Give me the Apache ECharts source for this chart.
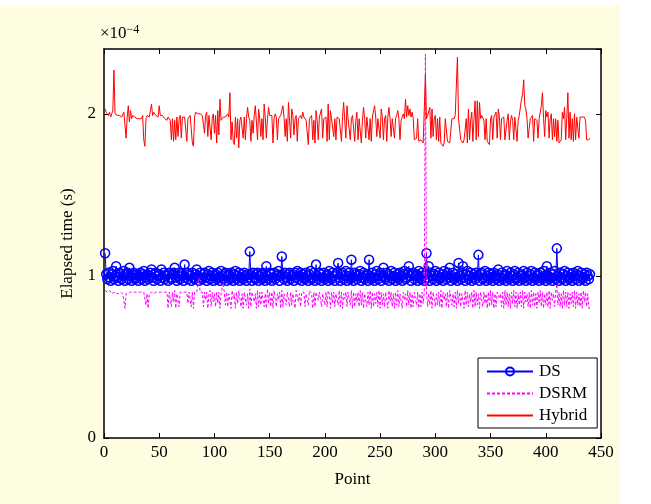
<!DOCTYPE html>
<html><head><meta charset="utf-8">
<script src="https://cdn.jsdelivr.net/npm/echarts@6/dist/echarts.min.js"></script>
<style>html,body{margin:0;padding:0;background:#fff;}#c{width:651px;height:504px;}</style>
</head><body><div id="c"></div>
<script>
// values in units of 1e-4 s, points 1..440
const dsValues = [
1.14,1.01,0.98,1.02,0.99,0.97,1.01,1.03,0.98,1.00,
1.06,0.99,0.97,1.02,1.01,0.98,1.00,1.03,0.97,1.01,
1.02,0.98,1.05,1.00,0.97,1.01,1.02,0.98,0.99,1.01,
0.97,1.00,1.02,0.98,1.01,1.03,0.97,0.99,1.01,0.98,
1.00,1.02,1.04,0.99,0.97,1.01,1.02,0.98,1.00,1.01,
0.97,1.04,0.99,1.02,0.98,1.00,1.01,0.97,1.02,0.99,
0.98,1.01,1.02,1.05,0.99,0.97,1.00,1.02,0.98,1.01,
1.00,0.97,1.07,0.99,1.02,0.98,1.01,1.00,0.97,1.02,
0.99,0.98,1.01,1.04,1.00,0.97,1.02,0.99,0.98,1.01,
1.02,0.99,0.97,1.01,1.03,0.98,1.00,1.02,0.97,1.00,
1.01,0.98,1.02,0.99,0.97,1.03,1.00,0.98,1.01,1.02,
0.97,1.00,1.01,0.98,1.02,0.99,0.97,1.01,1.03,0.98,
1.00,1.02,0.97,0.99,1.01,0.98,1.02,1.00,0.97,1.01,
0.99,1.15,1.01,0.97,1.02,0.99,0.98,1.01,1.02,0.97,
1.00,1.01,0.98,1.02,0.99,0.97,1.06,1.00,0.98,1.02,
1.01,0.97,0.99,1.02,0.98,1.00,1.01,1.03,0.97,1.00,
1.12,1.01,0.98,1.02,0.99,0.97,1.01,1.02,0.98,1.00,
1.01,0.97,1.02,0.99,1.03,0.98,1.00,1.02,0.97,1.01,
0.99,0.98,1.02,1.00,0.97,1.01,1.03,0.98,0.99,1.02,
0.97,1.07,1.00,0.98,1.02,1.01,0.97,0.99,1.02,0.98,
1.00,1.01,0.97,1.03,0.99,0.98,1.02,1.00,0.97,1.01,
1.02,1.08,0.99,0.97,1.01,1.02,0.98,1.00,1.03,0.97,
1.00,1.02,0.98,1.10,0.99,0.97,1.02,1.01,0.98,1.00,
1.01,1.03,0.97,0.99,1.02,0.98,1.00,1.01,0.97,1.10,
1.00,0.98,1.02,0.99,0.97,1.01,1.03,0.98,1.00,1.02,
0.97,1.00,1.05,0.99,0.98,1.02,1.01,0.97,1.00,1.03,
0.98,1.00,1.02,0.97,0.99,1.01,0.98,1.02,1.00,0.97,
1.01,1.03,0.98,0.99,1.02,1.06,1.00,0.97,1.01,1.02,
0.98,1.00,1.01,0.97,1.03,0.99,0.98,1.02,1.00,0.97,
1.01,1.14,0.99,1.06,0.97,1.02,1.00,0.98,1.01,1.03,
0.97,1.00,1.02,0.98,0.99,1.01,0.97,1.03,1.00,0.98,
1.02,0.99,1.05,0.97,1.00,1.02,0.98,1.01,0.99,0.97,
1.08,1.00,0.98,1.02,1.06,0.99,0.97,1.01,1.03,0.98,
1.00,1.02,0.97,0.99,1.01,0.98,1.02,1.00,1.13,0.97,
1.01,1.02,0.98,0.99,1.03,0.97,1.00,1.02,0.98,1.01,
0.99,0.97,1.02,1.00,0.98,1.01,1.04,0.97,0.99,1.02,
0.98,1.00,1.01,0.97,1.03,0.99,0.98,1.02,1.00,0.97,
1.01,1.03,0.98,0.99,1.02,0.97,1.00,1.01,0.98,1.03,
0.99,0.97,1.02,1.00,0.98,1.01,1.03,0.97,0.99,1.02,
0.98,1.00,1.01,0.97,1.02,0.99,0.98,1.03,1.00,0.97,
1.06,1.00,0.98,1.02,0.99,0.97,1.01,1.03,0.98,1.17,
1.00,0.97,1.02,0.99,0.98,1.01,1.03,0.97,1.00,1.02,
0.98,0.99,1.01,0.97,1.02,1.00,0.98,1.01,1.03,0.97,
1.00,1.02,0.98,0.99,1.01,0.97,1.02,1.00,0.98,1.01
];
const dsrmValues = [
0.91,0.92,0.90,0.91,0.91,0.90,0.89,0.90,0.90,0.91,
0.89,0.90,0.89,0.90,0.90,0.90,0.89,0.88,0.80,0.89,
0.88,0.89,0.89,0.90,0.89,0.90,0.89,0.90,0.89,0.90,
0.89,0.90,0.90,0.90,0.89,0.90,0.90,0.82,0.89,0.80,
0.89,0.90,0.90,0.91,0.89,0.90,0.90,0.91,0.90,0.89,
0.90,0.89,0.90,0.91,0.90,0.89,0.90,0.80,0.90,0.89,
0.81,0.90,0.84,0.91,0.80,0.89,0.90,0.81,0.90,0.91,
0.90,0.89,0.90,0.89,0.90,0.83,0.90,0.89,0.81,0.90,
0.80,0.90,0.89,0.90,0.91,0.99,0.90,0.89,0.90,0.81,
0.90,0.85,0.90,0.80,0.89,0.91,0.81,0.90,0.84,0.89,
0.81,0.90,0.83,0.90,0.80,0.89,0.90,0.96,0.89,0.82,
0.90,0.81,0.89,0.90,0.80,0.91,0.86,0.89,0.80,0.90,
0.83,0.91,0.90,0.81,0.89,0.80,0.90,0.91,0.82,0.89,
0.80,0.92,0.81,0.90,0.90,0.84,0.89,0.80,0.91,0.81,
0.90,0.82,0.90,0.89,0.81,0.89,0.80,0.92,0.83,0.90,
0.81,0.90,0.80,0.91,0.90,0.81,0.89,0.85,0.90,0.80,
0.91,0.81,0.89,0.90,0.82,0.90,0.89,0.81,0.90,0.82,
0.89,0.90,0.80,0.91,0.90,0.84,0.89,0.81,0.90,0.89,
0.90,0.81,0.89,0.90,0.82,0.91,0.90,0.89,0.80,0.90,
0.81,0.90,0.89,0.85,0.90,0.91,0.81,0.89,0.90,0.82,
0.90,0.81,0.91,0.89,0.80,0.90,0.83,0.90,0.81,0.89,
0.90,0.82,0.91,0.81,0.90,0.80,0.89,0.86,0.90,0.81,
0.90,0.89,0.82,0.91,0.80,0.90,0.81,0.89,0.84,0.90,
0.81,0.91,0.82,0.90,0.80,0.89,0.90,0.81,0.90,0.82,
0.91,0.80,0.90,0.81,0.89,0.83,0.90,0.81,0.91,0.80,
0.90,0.82,0.89,0.81,0.90,0.90,0.80,0.91,0.84,0.90,
0.81,0.89,0.80,0.90,0.82,0.91,0.81,0.89,0.90,0.80,
0.90,0.85,0.89,0.81,0.91,0.82,0.90,0.80,0.89,0.81,
0.90,0.91,0.82,0.90,0.80,0.89,0.81,0.90,0.83,0.90,
2.37,0.90,0.81,0.89,0.82,0.91,0.80,0.90,0.90,0.81,
0.89,0.82,0.90,0.81,0.91,0.80,0.90,0.85,0.89,0.81,
0.90,0.80,0.91,0.90,0.82,0.89,0.81,0.90,0.80,0.91,
0.83,0.90,0.81,0.89,0.90,0.80,0.91,0.82,0.90,0.81,
0.89,0.84,0.90,0.80,0.91,0.81,0.90,0.82,0.89,0.80,
0.90,0.91,0.81,0.90,0.83,0.89,0.80,0.90,0.81,0.91,
0.82,0.90,0.80,0.89,0.81,0.90,0.90,0.86,0.89,0.81,
0.90,0.80,0.91,0.82,0.90,0.81,0.89,0.80,0.90,0.83,
0.91,0.81,0.90,0.80,0.89,0.82,0.90,0.81,0.91,0.80,
0.90,0.84,0.89,0.81,0.90,0.80,0.91,0.82,0.90,0.81,
0.89,0.80,0.90,0.83,0.91,0.81,0.90,0.80,0.89,0.82,
0.90,0.81,0.91,0.80,0.90,0.85,0.89,0.81,0.90,0.95,
0.82,0.90,0.81,0.89,0.80,0.91,0.82,0.90,0.81,0.90,
0.80,0.89,0.83,0.90,0.81,0.91,0.80,0.90,0.82,0.89,
0.81,0.90,0.80,0.91,0.84,0.90,0.81,0.89,0.80,0.80
];
const hybridValues = [
2.03,2.01,2.00,1.99,2.01,1.98,2.00,2.02,2.27,2.00,
1.99,1.99,1.99,1.99,1.99,1.98,1.99,2.01,2.00,1.85,
1.98,2.05,1.95,2.02,1.97,1.99,2.00,1.98,1.99,1.97,
1.98,1.97,1.96,1.97,1.99,1.84,1.80,1.97,1.99,2.00,
1.98,2.02,2.06,1.99,2.01,2.00,1.99,2.00,1.98,2.05,
1.99,1.98,1.99,1.98,1.97,1.98,1.96,1.98,1.97,1.96,
1.84,1.97,1.83,1.96,1.84,1.98,1.86,1.97,1.99,1.85,
1.98,1.97,1.98,1.99,1.83,1.97,1.98,1.99,1.98,1.82,
1.80,1.98,2.01,2.00,2.00,1.99,2.00,2.00,1.99,2.00,
1.88,1.99,2.01,1.86,1.99,1.98,1.84,1.97,2.00,1.88,
1.99,1.82,2.02,1.87,2.09,1.96,1.97,1.98,1.97,1.98,
1.99,2.00,1.98,2.13,1.84,1.95,1.83,1.81,1.98,1.85,
1.97,1.79,1.96,1.98,1.97,1.85,1.98,1.84,1.97,2.04,
1.98,1.96,1.83,1.96,1.88,1.99,2.05,1.95,1.84,2.03,
1.97,1.86,1.97,1.84,2.06,1.98,1.85,1.97,2.04,1.99,
1.98,1.99,1.82,1.97,2.00,1.98,1.84,1.97,1.98,1.99,
1.98,2.05,1.98,1.86,1.97,1.83,2.07,1.96,1.85,2.03,
1.99,1.87,1.97,1.99,1.83,1.97,1.98,1.99,1.97,2.01,
1.98,1.99,1.96,1.97,1.81,1.97,1.98,1.99,1.84,1.96,
1.82,2.02,1.96,1.84,1.98,1.97,2.03,1.85,1.97,1.96,
1.98,1.83,2.06,1.84,2.02,1.97,1.98,1.86,1.97,1.84,
1.98,1.99,1.97,1.98,1.83,1.98,2.07,1.96,1.85,2.05,
1.97,1.98,1.84,1.97,1.99,1.98,1.83,1.96,2.01,1.84,
1.97,1.98,1.82,1.96,2.04,1.97,1.85,1.98,1.99,1.84,
1.97,1.83,1.98,1.99,2.05,1.98,1.86,1.97,1.98,1.85,
2.03,1.98,1.84,1.97,1.99,1.83,1.98,2.04,1.97,1.86,
1.97,1.98,1.85,1.97,1.99,2.02,1.97,1.84,1.96,1.98,
2.00,1.97,2.09,1.98,2.05,1.99,2.03,1.98,2.01,1.97,
1.84,1.83,1.85,1.97,1.83,1.82,1.84,1.83,1.82,1.81,
2.24,1.97,1.99,1.98,2.04,1.85,2.03,1.86,1.97,1.99,
1.84,1.97,1.83,1.98,1.82,1.81,1.80,1.82,1.97,1.98,
1.83,1.84,1.82,1.83,1.97,1.98,1.97,1.99,1.98,2.35,
1.97,1.98,1.84,1.83,1.82,1.84,1.83,1.97,1.82,2.03,
1.84,1.96,2.01,1.83,1.97,2.08,1.84,2.08,1.86,2.07,
1.97,1.99,1.98,1.96,1.84,1.97,1.83,1.82,1.81,1.97,
1.99,1.84,1.98,1.97,2.01,1.85,2.03,1.98,1.84,1.97,
1.96,1.98,1.84,1.83,1.96,2.00,1.84,1.95,1.99,1.96,
1.84,1.98,1.97,1.83,1.96,1.99,1.98,2.09,2.12,2.21,
2.05,2.03,1.97,1.85,1.84,1.97,1.98,1.99,1.83,1.97,
1.98,1.96,1.85,1.97,1.98,2.05,2.13,1.97,1.86,2.02,
1.98,2.01,1.85,1.97,2.00,1.84,1.97,1.86,1.97,1.83,
1.96,1.82,1.83,1.84,2.01,1.97,2.04,1.84,1.97,2.13,
1.85,2.01,1.84,1.97,1.83,2.00,1.84,1.98,1.97,1.85,
1.98,1.99,1.98,1.97,1.98,1.96,1.84,1.83,1.84,1.85
];
const seriesNames = ['DS', 'DSRM', 'Hybrid'];
const yTickLabels = ['0', '1', '2'];

function pairs(vals) { return vals.map((v, i) => [i + 1, v]); }

const FONT = 'Liberation Serif';
const chart = echarts.init(document.getElementById('c'), null, {renderer: 'canvas'});
const tickStyle = {show: true, inside: true, length: 5, lineStyle: {color: '#000', width: 1}};
const lineAx = {show: true, onZero: false, lineStyle: {color: '#000', width: 1.5}};

chart.setOption({
  animation: false,
  backgroundColor: '#ffffff',
  graphic: [
    {type: 'rect', z: -100, silent: true, shape: {x: 0, y: 5, width: 620, height: 499}, style: {fill: '#FFFDE1'}},
    {type: 'text', left: 100, top: 24, silent: true,
     style: {text: '×10{s|−4}', font: '17px "Liberation Serif"', fill: '#000',
       rich: {s: {fontSize: 12, fontFamily: FONT, verticalAlign: 'top', padding: [0, 0, 8, 0]}}}}
  ],
  grid: {left: 104, right: 50, top: 49, bottom: 66, show: true, backgroundColor: '#fff', borderWidth: 0},
  legend: {
    orient: 'vertical', left: 478, top: 358,
    data: [
      {name: seriesNames[0]},
      {name: seriesNames[1], itemStyle: {opacity: 0}},
      {name: seriesNames[2], itemStyle: {opacity: 0}}
    ],
    backgroundColor: '#fff', borderColor: '#000', borderWidth: 1,
    padding: [5, 10, 4, 8], itemGap: 5, itemWidth: 46, itemHeight: 10,
    textStyle: {fontFamily: FONT, fontSize: 17, color: '#000', padding: [0, 0, 0, 1]}
  },
  xAxis: [
    {type: 'value', min: 0, max: 450, interval: 50, position: 'bottom',
     axisLine: lineAx, axisTick: tickStyle, splitLine: {show: false},
     axisLabel: {fontFamily: FONT, fontSize: 17, color: '#000', margin: 6},
     name: 'Point', nameLocation: 'middle', nameGap: 33,
     nameTextStyle: {fontFamily: FONT, fontSize: 17, color: '#000'}},
    {type: 'value', min: 0, max: 450, interval: 50, position: 'top',
     axisLine: lineAx, axisTick: tickStyle, splitLine: {show: false}, axisLabel: {show: false}}
  ],
  yAxis: [
    {type: 'value', min: 0, max: 2.4, interval: 1, position: 'left',
     axisLine: lineAx, axisTick: tickStyle, splitLine: {show: false},
     axisLabel: {fontFamily: FONT, fontSize: 17, color: '#000', margin: 8, showMaxLabel: false,
       formatter: v => Math.abs(v - Math.round(v)) < 1e-9 && yTickLabels[Math.round(v)] !== undefined ? yTickLabels[Math.round(v)] : ''},
     name: 'Elapsed time (s)', nameLocation: 'middle', nameGap: 28,
     nameTextStyle: {fontFamily: FONT, fontSize: 17, color: '#000'}},
    {type: 'value', min: 0, max: 2.4, interval: 1, position: 'right',
     axisLine: lineAx, axisTick: tickStyle, splitLine: {show: false}, axisLabel: {show: false}}
  ],
  series: [
    {name: 'DS', type: 'line', data: pairs(dsValues), symbol: 'circle', symbolSize: 9, showAllSymbol: true,
     lineStyle: {color: '#0000ff', width: 1},
     itemStyle: {color: 'rgba(255,255,255,0)', borderColor: '#0000ff', borderWidth: 1.5}, z: 2},
    {name: 'DSRM', type: 'line', data: pairs(dsrmValues), symbol: 'none',
     lineStyle: {color: '#ff00ff', width: 1, type: [3, 2]}, itemStyle: {color: '#ff00ff'}, z: 3},
    {name: 'Hybrid', type: 'line', data: pairs(hybridValues), symbol: 'none',
     lineStyle: {color: '#ff0000', width: 1}, itemStyle: {color: '#ff0000'}, z: 4}
  ]
});
</script></body></html>
